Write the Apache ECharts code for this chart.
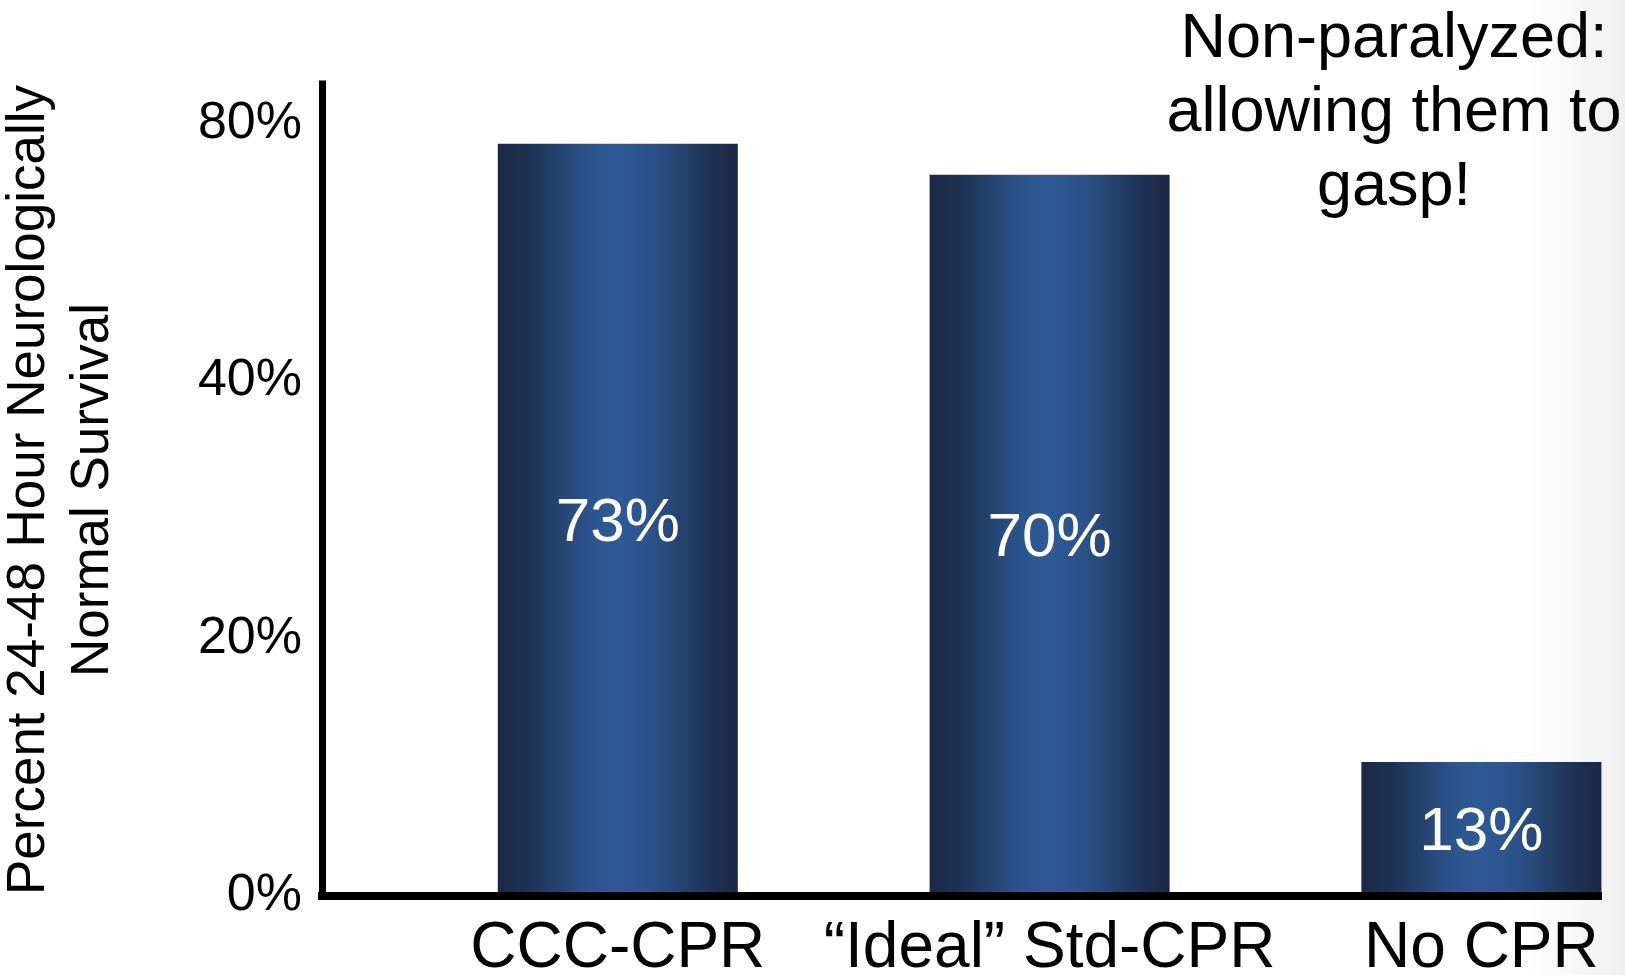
<!DOCTYPE html>
<html>
<head>
<meta charset="utf-8">
<script src="https://cdn.jsdelivr.net/npm/echarts@6/dist/echarts.min.js"></script>
<style>
  html, body { margin: 0; padding: 0; background: #fff; }
  #chart { width: 1625px; height: 975px; }
</style>
</head>
<body>
<div id="chart"></div>
<script>
// Survival by resuscitation method
const categories = ['CCC-CPR', '\u201cIdeal\u201d Std-CPR', 'No CPR'];
const survival = [73, 70, 13];
const yTickValues = [0, 25, 50, 75];
const yTickLabels = ['0%', '20%', '40%', '80%'];
const yTitle = 'Percent 24-48 Hour Neurologically\nNormal Survival';
const note = 'Non-paralyzed:\nallowing them to\ngasp!';

const FONT = '"Liberation Sans", Arial, Helvetica, sans-serif';

const chart = echarts.init(document.getElementById('chart'), null, { renderer: 'canvas' });

const barFill = new echarts.graphic.LinearGradient(0, 0, 1, 0, [
  { offset: 0.00, color: '#1a2846' },
  { offset: 0.12, color: '#1e3152' },
  { offset: 0.38, color: '#2c548d' },
  { offset: 0.50, color: '#2f5a96' },
  { offset: 0.64, color: '#2b528a' },
  { offset: 0.88, color: '#1f3356' },
  { offset: 1.00, color: '#1a2845' }
]);

chart.setOption({
  animation: false,
  backgroundColor: new echarts.graphic.LinearGradient(0, 0, 1, 0, [
    { offset: 0, color: '#ffffff' },
    { offset: 0.94, color: '#ffffff' },
    { offset: 1, color: '#efefef' }
  ]),
  textStyle: { fontFamily: FONT },
  grid: { left: 322, right: 27, top: 84, bottom: 79, containLabel: false, outerBoundsMode: 'none' },
  xAxis: {
    type: 'value',
    min: -0.685,
    max: 2.27,
    z: 10,
    splitLine: { show: false },
    axisTick: { show: false },
    axisLine: { show: true, onZero: false, lineStyle: { color: '#000', width: 8, cap: 'square' } },
    axisLabel: {
      customValues: categories.map((_, i) => i),
      formatter: v => categories[Math.round(v)],
      color: '#000',
      fontSize: 64,
      fontFamily: FONT,
      margin: 21
    }
  },
  yAxis: {
    type: 'value',
    min: 0,
    max: 78.8,
    z: 10,
    splitLine: { show: false },
    axisTick: { show: false },
    axisLine: { show: true, onZero: false, lineStyle: { color: '#000', width: 7, cap: 'square' } },
    axisLabel: {
      customValues: yTickValues,
      formatter: v => yTickLabels[yTickValues.indexOf(v)],
      color: '#000',
      fontSize: 52,
      fontFamily: FONT,
      margin: 20
    },
    name: yTitle,
    nameLocation: 'middle',
    nameRotate: 90,
    nameGap: 197,
    nameMoveOverlap: false,
    nameTextStyle: { color: '#000', fontSize: 53, lineHeight: 64, fontFamily: FONT, align: 'center' }
  },
  series: [{
    type: 'bar',
    barWidth: 240,
    data: survival.map((v, i) => [i, v]),
    itemStyle: { color: barFill },
    label: {
      show: true,
      position: 'inside',
      offset: [0, 4],
      formatter: p => p.value[1] + '%',
      color: '#fff',
      fontSize: 62,
      fontFamily: FONT
    }
  }],
  graphic: [{
    type: 'text',
    x: 1394,
    y: 3,
    style: {
      text: note,
      font: '63px ' + FONT,
      fill: '#000',
      align: 'center',
      textAlign: 'center',
      verticalAlign: 'top',
      lineHeight: 74
    }
  }]
});
</script>
</body>
</html>
